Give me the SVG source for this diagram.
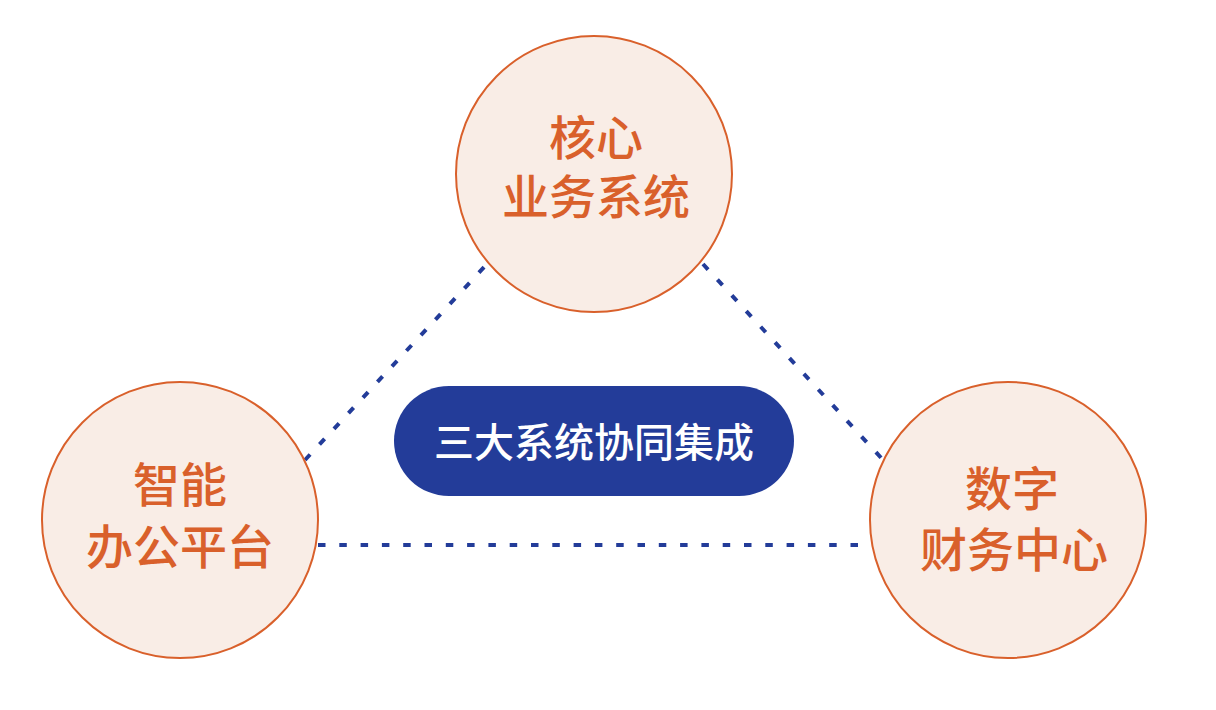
<svg xmlns="http://www.w3.org/2000/svg" width="1216" height="710" viewBox="0 0 1216 710">
<style>
.node{fill:#F9EDE6;stroke:#D9602B;stroke-width:2}
.lbl{font-family:"Noto Sans CJK SC","Noto Sans",sans-serif;font-size:47px;font-weight:500;fill:#D9602B;text-anchor:middle}
.conn{stroke:#233C99;stroke-width:4;stroke-dasharray:7.5 13.8;fill:none}
.hub{fill:#233C99}
.hubtxt{font-family:"Noto Sans CJK SC","Noto Sans",sans-serif;font-size:40px;font-weight:500;fill:#FFFFFF;text-anchor:middle}
</style>
<rect width="1216" height="710" fill="#FFFFFF"/>
<g id="connectors">
<line class="conn" x1="305" y1="460" x2="487" y2="264"/>
<line class="conn" x1="703" y1="264" x2="884" y2="461"/>
<line class="conn" x1="318" y1="545" x2="870" y2="545"/>
</g>
<g id="node-core">
<circle class="node" cx="594" cy="174" r="138"/>
<text class="lbl"><tspan x="596" y="155">核心</tspan><tspan x="596" y="214">业务系统</tspan></text>
</g>
<g id="node-office">
<circle class="node" cx="180" cy="520" r="138"/>
<text class="lbl"><tspan x="180" y="502">智能</tspan><tspan x="180" y="564">办公平台</tspan></text>
</g>
<g id="node-finance">
<circle class="node" cx="1008" cy="520" r="138"/>
<text class="lbl"><tspan x="1012" y="506">数字</tspan><tspan x="1014" y="567">财务中心</tspan></text>
</g>
<g id="hub">
<rect class="hub" x="394" y="386" width="400" height="110" rx="55" ry="55"/>
<text class="hubtxt" x="594" y="457">三大系统协同集成</text>
</g>
</svg>
